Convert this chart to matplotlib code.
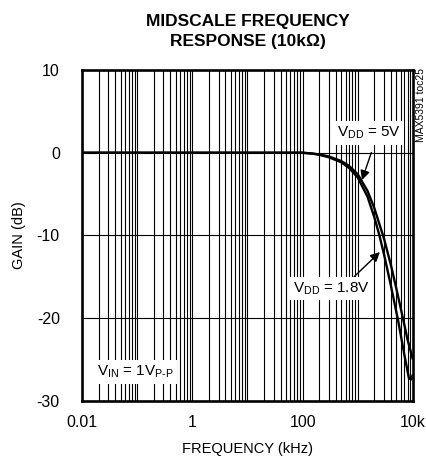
import matplotlib
matplotlib.use("Agg")
import matplotlib.pyplot as plt
import numpy as np

FONT = 'Liberation Sans'
plt.rcParams['font.family'] = [FONT, 'DejaVu Sans']
plt.rcParams['mathtext.fontset'] = 'custom'
plt.rcParams['mathtext.rm'] = FONT
plt.rcParams['mathtext.it'] = FONT
plt.rcParams['mathtext.bf'] = FONT + ':bold'
plt.rcParams['axes.unicode_minus'] = False

# data (frequency in kHz, gain in dB)
freq_5v = [0.01, 0.1, 1, 10, 100, 150, 200, 300, 500, 700, 1000, 1500, 2000, 3000, 4000, 5000, 6500, 8000, 10000]
gain_5v = [0, 0, 0, 0, 0, -0.1, -0.2, -0.45, -1.0, -1.6, -2.6, -4.6, -6.7, -10.4, -13.6, -16.4, -19.8, -22.6, -25.0]
freq_18v = [0.01, 0.1, 1, 10, 100, 150, 200, 300, 500, 700, 1000, 1500, 2000, 2450, 3000, 4000, 5400, 7000, 8500, 9300, 10000]
gain_18v = [0, 0, 0, 0, 0, -0.1, -0.25, -0.55, -1.15, -1.85, -3.0, -5.3, -7.8, -9.9, -12.3, -16.1, -20.3, -24.4, -27.3, -27.4, -26.8]

xticks = [0.01, 1, 100, 10000]
xticklabels = ['0.01', '1', '100', '10k']
yticks = [-30, -20, -10, 0, 10]

fig = plt.figure(figsize=(4.27, 4.66), dpi=100)
ax = fig.add_axes([0.192, 0.1395, 0.775, 0.7103])

ax.set_xscale('log')
ax.set_xlim(0.01, 10000)
ax.set_ylim(-30, 10)

# grid: every decade subdivision
for d in range(-2, 4):
    for m in range(1, 10):
        v = m * 10.0 ** d
        if 0.01 < v < 10000:
            ax.axvline(v, color='black', lw=0.8, zorder=1)
for y in [-20, -10, 0]:
    ax.axhline(y, color='black', lw=0.8, zorder=1)

ax.plot(freq_5v, gain_5v, color='black', lw=1.7, zorder=3, solid_capstyle='butt')
ax.plot(freq_18v, gain_18v, color='black', lw=1.7, zorder=3, solid_capstyle='butt')

ax.set_xticks(xticks)
ax.set_xticklabels(xticklabels)
ax.set_yticks(yticks)
ax.minorticks_off()
ax.tick_params(length=0, labelsize=11.5, pad=10)
ax.tick_params(axis='y', pad=16)
for s in ax.spines.values():
    s.set_linewidth(1.9)

ax.set_xlabel('FREQUENCY (kHz)', fontsize=10.5, labelpad=9)
ax.set_ylabel('GAIN (dB)', fontsize=10.5, labelpad=8)

fig.text(0.581, 0.933, 'MIDSCALE FREQUENCY\nRESPONSE (10k\u03a9)', ha='center', va='center',
         fontsize=12.5, fontweight='bold', linespacing=1.45)

fig.text(0.987, 0.855, 'MAX5391 toc25', rotation=90, ha='center', va='top', fontsize=7.5)

bbox = dict(facecolor='white', edgecolor='none', pad=2.5)
ax.annotate(r'$\mathregular{V_{DD}}$ = 5V', xy=(1190, -3.3), xytext=(1590, 2.4),
            fontsize=11, ha='center', va='center', bbox=bbox, zorder=5,
            arrowprops=dict(arrowstyle='-|>', color='black', lw=1.0, mutation_scale=14,
                            shrinkA=6, shrinkB=0, relpos=(0.6, 0.0)))
ax.annotate(r'$\mathregular{V_{DD}}$ = 1.8V', xy=(2518, -12.0), xytext=(330, -16.4),
            fontsize=11, ha='center', va='center', bbox=bbox, zorder=5,
            arrowprops=dict(arrowstyle='-|>', color='black', lw=1.0, mutation_scale=14,
                            shrinkA=0, shrinkB=0, relpos=(0.75, 1.0)))
ax.text(0.0187, -26.5, r'$\mathregular{V_{IN}}$ = 1$\mathregular{V_{P\text{-}P}}$', fontsize=11,
        ha='left', va='center', bbox=bbox, zorder=5)

fig.savefig('out.png', dpi=100)
